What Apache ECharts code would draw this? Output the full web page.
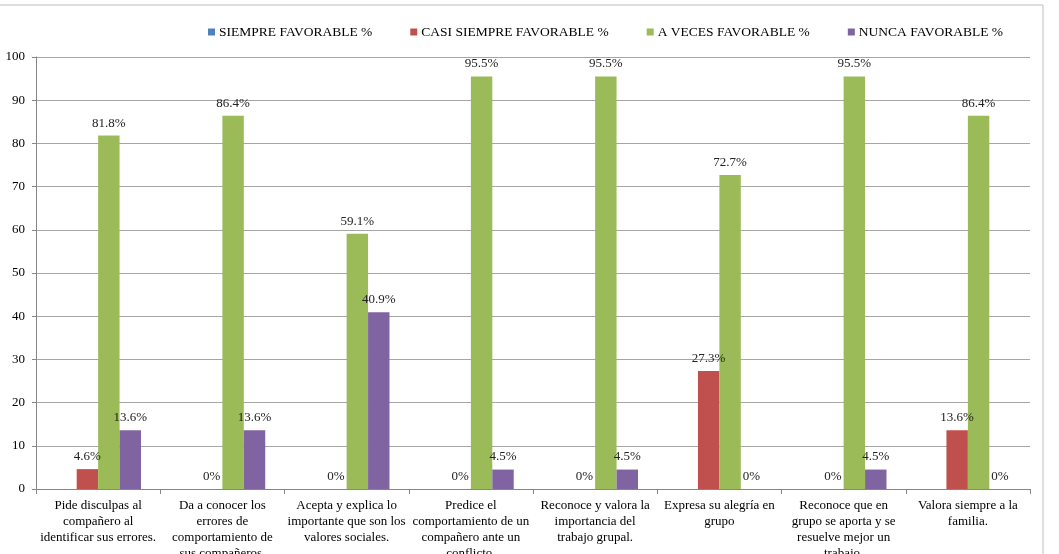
<!DOCTYPE html>
<html>
<head>
<meta charset="utf-8">
<script src="https://cdn.jsdelivr.net/npm/echarts@6/dist/echarts.min.js"></script>
<style>
    html, body { margin: 0; padding: 0; background: #fff; }
    #chart { width: 1059px; height: 554px; }
</style>
</head>
<body>
<div id="chart"></div>
<script>
const categories = [
    'Pide disculpas al\ncompañero al\nidentificar sus errores.',
    'Da a conocer los\nerrores de\ncomportamiento de\nsus compañeros.',
    'Acepta y explica lo\nimportante que son los\nvalores sociales.',
    'Predice el\ncomportamiento de un\ncompañero ante un\nconflicto.',
    'Reconoce y valora la\nimportancia del\ntrabajo grupal.',
    'Expresa su alegría en\ngrupo',
    'Reconoce que en\ngrupo se aporta y se\nresuelve mejor un\ntrabajo.',
    'Valora siempre a la\nfamilia.'
]
const seriesNames = ['SIEMPRE FAVORABLE %', 'CASI SIEMPRE FAVORABLE %', 'A VECES FAVORABLE %', 'NUNCA FAVORABLE %']
const siempre = [null, null, null, null, null, null, null, null]
const casiSiempre = [4.6, 0, 0, 0, 0, 27.3, 0, 13.6]
const aVeces = [81.8, 86.4, 59.1, 95.5, 95.5, 72.7, 95.5, 86.4]
const nunca = [13.6, 13.6, 40.9, 4.5, 4.5, 0, 4.5, 0]
const colors = ['#4F81BD', '#C0504D', '#9BBB59', '#8064A2']

const font = 'Liberation Serif'
const chart = echarts.init(document.getElementById('chart'))

const makeSeries = (name, data, color) => ({
    name,
    type: 'bar',
    data,
    barGap: '0%',
    barCategoryGap: '31%',
    itemStyle: { color },
    label: {
        show: true,
        position: 'top',
        distance: 6,
        fontFamily: font,
        fontSize: 13,
        color: '#222',
        formatter: p => p.value + '%'
    }
})

chart.setOption({
    animation: false,
    color: colors,
    graphic: [{
        type: 'rect',
        shape: { x: -5, y: 5, width: 1048, height: 560 },
        style: { fill: 'none', stroke: '#BFBFBF', lineWidth: 1 },
        silent: true
    }],
    legend: {
        left: 203,
        top: 20,
        itemWidth: 7,
        itemHeight: 7,
        itemGap: 38,
        icon: 'rect',
        textStyle: { fontFamily: font, fontSize: 13.5, color: '#000', padding: [0, 0, 0, -1] },
        data: seriesNames
    },
    grid: { left: 36, right: 29, top: 57, bottom: 65, containLabel: false, outerBoundsMode: 'none' },
    xAxis: {
        type: 'category',
        data: categories,
        axisLine: { lineStyle: { color: '#868686' } },
        axisTick: { show: true, length: 5, lineStyle: { color: '#868686' } },
        axisLabel: {
            interval: 0,
            margin: 9,
            fontFamily: font,
            fontSize: 13,
            lineHeight: 16,
            color: '#000'
        }
    },
    yAxis: {
        type: 'value',
        min: 0,
        max: 100,
        interval: 10,
        axisLine: { show: true, lineStyle: { color: '#868686' } },
        axisTick: { show: true, length: 4, lineStyle: { color: '#868686' } },
        splitLine: { lineStyle: { color: '#A6A6A6' } },
        axisLabel: { fontFamily: font, fontSize: 13, color: '#000', margin: 11 }
    },
    series: [
        makeSeries(seriesNames[0], siempre, colors[0]),
        makeSeries(seriesNames[1], casiSiempre, colors[1]),
        makeSeries(seriesNames[2], aVeces, colors[2]),
        makeSeries(seriesNames[3], nunca, colors[3])
    ]
})
</script>
</body>
</html>
